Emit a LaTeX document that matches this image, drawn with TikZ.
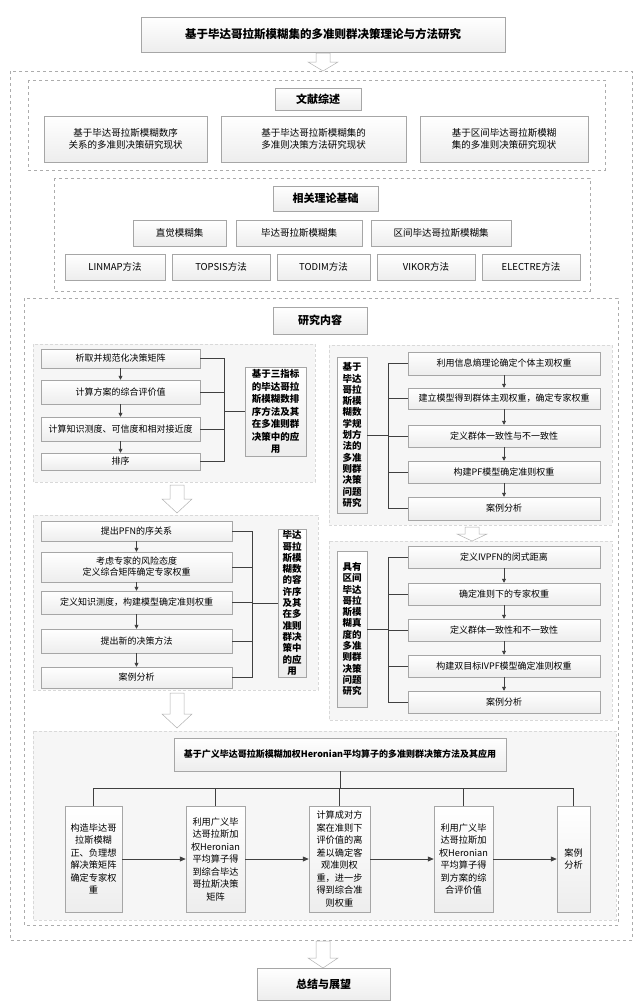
\documentclass[tikz,border=0pt]{standalone}
\usepackage{fontspec}
\setmainfont{Noto Sans CJK SC}
\usetikzlibrary{shadows,arrows.meta}
\newcommand\fs[1]{\fontsize{#1}{1.22\dimexpr#1pt\relax}\selectfont}
\newcommand\bx[7][]{\node[box,#1,minimum width={(#5-#3)*1pt},minimum height={(#6-#4)*1pt}] (#2) at ({(#3+#5)/2},{(#4+#6)/2}) {#7};}
\newcommand\pan[4]{\draw[panel] (#1,#2) rectangle (#3,#4);}
\newcommand\barrow[4]{\draw[barr] ({#2-7},#3) -- ({#2+7},#3) -- ({#2+7},{#4-#1}) -- ({#2+15},{#4-#1}) -- (#2,#4) -- ({#2-15},{#4-#1}) -- ({#2-7},{#4-#1}) -- cycle;}
\begin{document}
\begin{tikzpicture}[x=1pt,y=-1pt,
 box/.style={draw=gray!70,line width=0.5pt,top color=white,bottom color=gray!14,drop shadow={shadow xshift=1pt,shadow yshift=-1.2pt,opacity=0.25},align=center,inner sep=1pt,font=\fs{9}},
 hd/.style={box,font=\fs{11}\bfseries},
 lab/.style={box,font=\fontsize{9.5}{12.5}\selectfont\bfseries},
 lab2/.style={box,font=\fontsize{9.5}{11.3}\selectfont\bfseries},
 bot/.style={box,font=\fontsize{9.2}{12.5}\selectfont},
 panel/.style={fill=gray!7,draw=gray!30,densely dashed,line width=0.4pt},
 dsh/.style={draw=gray!65,dashed,line width=0.6pt},
 barr/.style={draw=gray!60,fill=white,line width=0.5pt},
 ln/.style={draw=black!75,line width=0.6pt},
 ar/.style={ln,-{Triangle[length=4pt,width=4pt]}},
 arl/.style={ln,line width=0.8pt,-{Triangle[length=6pt,width=5pt]}}]
\useasboundingbox (0,0) rectangle (640,1007);
% title
\bx[hd,font=\fs{11.5}\bfseries]{title}{141}{17}{505}{52}{基于毕达哥拉斯模糊集的多准则群决策理论与方法研究}
\barrow{9}{323}{53}{71}
\draw[dsh,line width=0.8pt] (10,71) rectangle (632,940);
% literature
\draw[dsh] (28,80) rectangle (605,170);
\bx[hd]{lit}{275}{88}{361}{110}{文献综述}
\bx[font=\fs{9.5}]{l1}{44}{116}{207}{162}{基于毕达哥拉斯模糊数序\\关系的多准则决策研究现状}
\bx[font=\fs{9.5}]{l2}{221}{116}{406}{162}{基于毕达哥拉斯模糊集的\\多准则决策方法研究现状}
\bx[font=\fs{9.5}]{l3}{420}{116}{588}{162}{基于区间毕达哥拉斯模糊\\集的多准则决策研究现状}
% theory
\draw[dsh] (54,178) rectangle (590,291);
\bx[hd]{thr}{273}{186}{378}{211}{相关理论基础}
\bx[font=\fs{9.5}]{t1}{133}{220}{226}{246}{直觉模糊集}
\bx[font=\fs{9.5}]{t2}{236}{220}{362}{246}{毕达哥拉斯模糊集}
\bx[font=\fs{9.5}]{t3}{371}{220}{511}{246}{区间毕达哥拉斯模糊集}
\bx[font=\fs{9.5}]{m1}{65}{254}{165}{280}{LINMAP方法}
\bx[font=\fs{9.5}]{m2}{172}{254}{270}{280}{TOPSIS方法}
\bx[font=\fs{9.5}]{m3}{277}{254}{370}{280}{TODIM方法}
\bx[font=\fs{9.5}]{m4}{377}{254}{475}{280}{VIKOR方法}
\bx[font=\fs{9.5}]{m5}{482}{254}{580}{280}{ELECTRE方法}
% research
\draw[dsh] (24,298) rectangle (618,925);
\bx[hd]{res}{273}{307}{367}{334}{研究内容}
% left panel 1
\pan{33}{344}{315}{482}
\bx{a1}{41}{349}{200}{368}{析取并规范化决策矩阵}
\bx{a2}{41}{380}{200}{404}{计算方案的综合评价值}
\bx{a3}{41}{417}{200}{441}{计算知识测度、可信度和相对接近度}
\bx{a4}{41}{453}{200}{470}{排序}
\bx[lab]{la}{245}{367}{306}{456}{基于三指标\\的毕达哥拉\\斯模糊数排\\序方法及其\\在多准则群\\决策中的应\\用}
\coordinate (ja) at (224,411.5);
\foreach \i in {1,...,4} \draw[ln] (a\i.east) -| (ja);
\draw[ln] (ja) -- (la.west);
\draw[ar] (a1) -- (a2); \draw[ar] (a2) -- (a3); \draw[ar] (a3) -- (a4);
\barrow{14}{177}{485}{513}
% left panel 2
\pan{33}{515}{318}{690}
\bx{b1}{41}{521}{232}{541}{提出PFN的序关系}
\bx{b2}{41}{552}{232}{582}{考虑专家的风险态度\\定义综合矩阵确定专家权重}
\bx{b3}{41}{591}{232}{614}{定义知识测度，构建模型确定准则权重}
\bx{b4}{41}{629}{232}{653}{提出新的决策方法}
\bx{b5}{41}{667}{232}{688}{案例分析}
\bx[lab2]{lb}{278}{529}{306}{677}{毕达\\哥拉\\斯模\\糊数\\的容\\许序\\及其\\在多\\准则\\群决\\策中\\的应\\用}
\coordinate (jb) at (252,603);
\foreach \i in {1,...,5} \draw[ln] (b\i.east) -| (jb);
\draw[ln] (jb) -- (lb.west);
\draw[ar] (b1) -- (b2); \draw[ar] (b2) -- (b3); \draw[ar] (b3) -- (b4); \draw[ar] (b4) -- (b5);
% right panel 1
\pan{329}{345}{612}{525}
\bx{c1}{408}{352}{600}{375}{利用信息熵理论确定个体主观权重}
\bx{c2}{408}{388}{600}{409}{建立模型得到群体主观权重，确定专家权重}
\bx{c3}{408}{425}{600}{447}{定义群体一致性与不一致性}
\bx{c4}{408}{461}{600}{483}{构建PF模型确定准则权重}
\bx{c5}{408}{497}{600}{520}{案例分析}
\bx[lab2]{lc}{337}{357}{367}{513}{基于\\毕达\\哥拉\\斯模\\糊数\\学规\\划方\\法的\\多准\\则群\\决策\\问题\\研究}
\coordinate (jc) at (388,435);
\foreach \i in {1,...,5} \draw[ln] (c\i.west) -| (jc);
\draw[ln] (lc.east) -- (jc);
\draw[ar] (c1) -- (c2); \draw[ar] (c2) -- (c3); \draw[ar] (c3) -- (c4); \draw[ar] (c4) -- (c5);
\barrow{7}{472}{527}{541}
% right panel 2
\pan{329}{541}{612}{720}
\bx{d1}{408}{546}{600}{568}{定义IVPFN的闵式距离}
\bx{d2}{408}{583}{600}{605}{确定准则下的专家权重}
\bx{d3}{408}{619}{600}{641}{定义群体一致性和不一致性}
\bx{d4}{408}{655}{600}{677}{构建双目标IVPF模型确定准则权重}
\bx{d5}{408}{691}{600}{713}{案例分析}
\bx[lab2]{ld}{337}{551}{367}{707}{具有\\区间\\毕达\\哥拉\\斯模\\糊真\\度的\\多准\\则群\\决策\\问题\\研究}
\coordinate (jd) at (388,629);
\foreach \i in {1,...,5} \draw[ln] (d\i.west) -| (jd);
\draw[ln] (ld.east) -- (jd);
\draw[ar] (d1) -- (d2); \draw[ar] (d2) -- (d3); \draw[ar] (d3) -- (d4); \draw[ar] (d4) -- (d5);
\barrow{14}{177}{693}{728}
% bottom panel
\pan{33}{731}{616}{920}
\bx[font=\fs{9}\bfseries]{h}{174}{738}{506}{771}{基于广义毕达哥拉斯模糊加权Heronian平均算子的多准则群决策方法及其应用}
\bx[bot]{e1}{65}{806}{122}{912}{构造毕达哥\\拉斯模糊\\正、负理想\\解决策矩阵\\确定专家权\\重}
\bx[bot]{e2}{186}{806}{245}{912}{利用广义毕\\达哥拉斯加\\权Heronian\\平均算子得\\到综合毕达\\哥拉斯决策\\矩阵}
\bx[bot]{e3}{309}{806}{370}{912}{计算成对方\\案在准则下\\评价值的离\\差以确定客\\观准则权\\重，进一步\\得到综合准\\则权重}
\bx[bot]{e4}{434}{806}{493}{912}{利用广义毕\\达哥拉斯加\\权Heronian\\平均算子得\\到方案的综\\合评价值}
\bx[bot]{e5}{557}{806}{590}{912}{案例\\分析}
\coordinate (tr) at (340,788);
\draw[ln,line width=0.9pt] (h.south) -- (tr);
\foreach \i in {1,...,5} \draw[ln,line width=0.9pt] (tr) -| (e\i.north);
\draw[arl] (e1) -- (e2); \draw[arl] (e2) -- (e3); \draw[arl] (e3) -- (e4); \draw[arl] (e4) -- (e5);
% summary
\barrow{10}{323}{941}{968}
\bx[hd]{sum}{257}{968}{390}{1000}{总结与展望}
\end{tikzpicture}
\end{document}
